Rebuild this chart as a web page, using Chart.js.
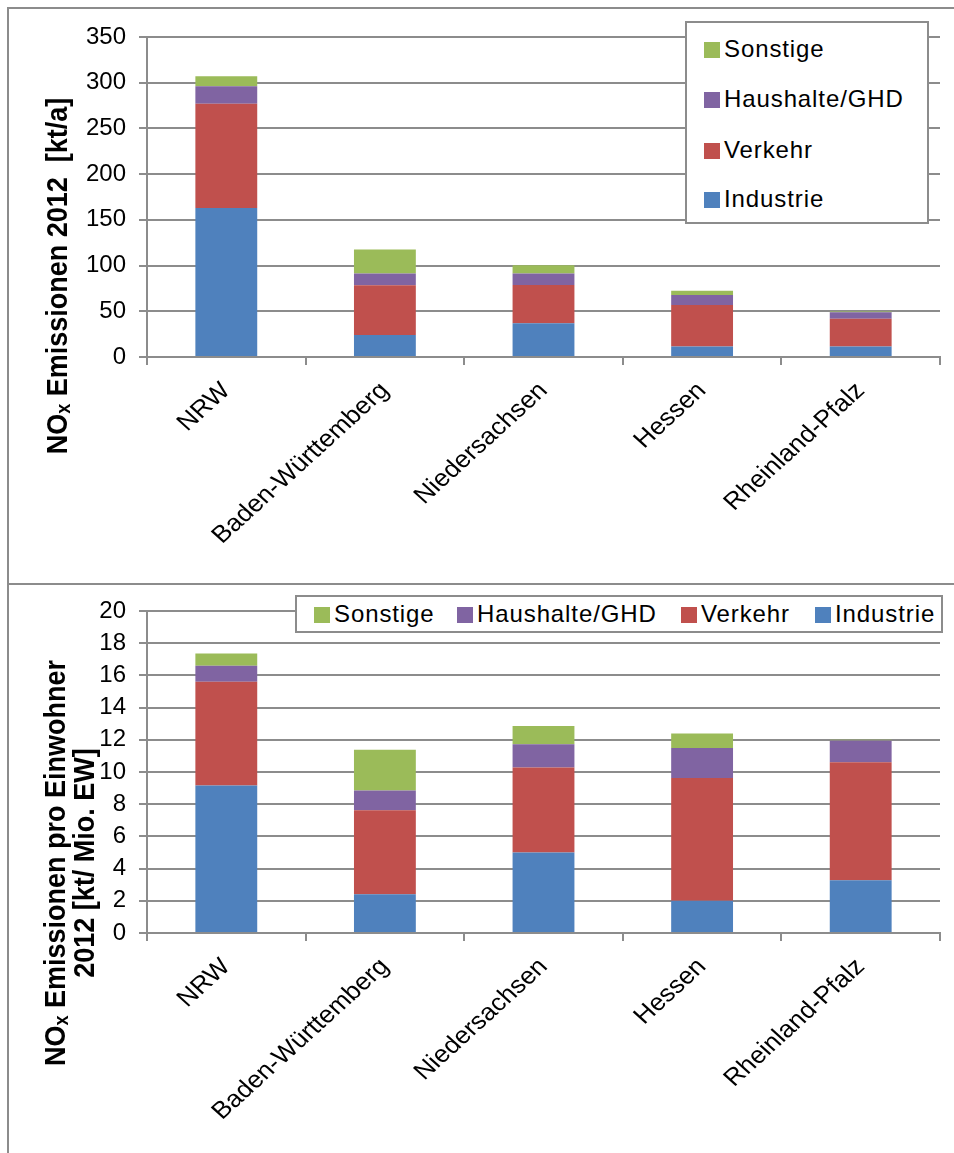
<!DOCTYPE html>
<html>
<head>
<meta charset="utf-8">
<script src="https://cdn.jsdelivr.net/npm/chart.js@4.4.1/dist/chart.umd.min.js"></script>
<style>
  html, body { margin: 0; padding: 0; background: #fff; }
  body { width: 954px; height: 1153px; overflow: hidden; position: relative;
         font-family: "Liberation Sans", Arial, sans-serif; }
  .frame { position: absolute; border: 2px solid #8c8c8c; border-right: none; }
  #f1 { left: 7px; top: 7px; width: 960px; height: 574px; }
  #f2 { left: 7px; top: 581px; width: 960px; height: 600px; border-top: none; border-bottom: none; }
  canvas { position: absolute; left: 0; }
  #c1 { top: 0; }
  #c2 { top: 583px; }
  .legend { position: absolute; background: #fff; border: 2px solid #8c8c8c; box-sizing: border-box; }
  .legend .item { position: absolute; white-space: nowrap; font-size: 24px; color: #000; line-height: 30px; height: 30px; letter-spacing: 0.9px; }
  .legend .sw { display: inline-block; width: 16px; height: 16px; vertical-align: -1px; margin-right: 4px; }
  #lg1 { left: 685px; top: 21px; width: 244px; height: 203px; }
  #lg2 { left: 295px; top: 595px; width: 648px; height: 38px; }
</style>
</head>
<body>
<div class="frame" id="f1"></div>
<div class="frame" id="f2"></div>
<canvas id="c1" width="954" height="583"></canvas>
<canvas id="c2" width="954" height="570"></canvas>
<div class="legend" id="lg1"></div>
<div class="legend" id="lg2"></div>
<script>
// ---------------- data ----------------
const categories = ['NRW', 'Baden-Württemberg', 'Niedersachsen', 'Hessen', 'Rheinland-Pfalz'];
const seriesNames = ['Industrie', 'Verkehr', 'Haushalte/GHD', 'Sonstige'];
const seriesColors = ['#4F81BD', '#C0504D', '#8064A2', '#9BBB59'];

// NOx emissions 2012 [kt/a]
const industrieAbs = [163, 24, 37, 11.6, 11.6];
const verkehrAbs   = [114, 54.5, 41.7, 45.3, 30.1];
const haushalteAbs = [19, 12.7, 12.7, 10.9, 7.3];
const sonstigeAbs  = [11, 26.5, 9, 4.7, 0.7];

// NOx emissions per inhabitant 2012 [kt / Mio. EW]
const industriePc = [9.16, 2.41, 5.0, 2.0, 3.28];
const verkehrPc   = [6.44, 5.21, 5.28, 7.63, 7.33];
const haushaltePc = [1.0, 1.23, 1.45, 1.86, 1.35];
const sonstigePc  = [0.76, 2.53, 1.13, 0.9, 0.05];

const yTicksTop = { min: 0, max: 350, step: 50 };
const yTicksBottom = { min: 0, max: 20, step: 2 };

const titleTop = [['NO', 'x', ' Emissionen 2012  [kt/a]']];
const titleBottom = [['NO', 'x', ' Emissionen pro Einwohner'], ['', '', '2012 [kt/ Mio. EW]']];

// ---------------- helpers ----------------
const FONT = '"Liberation Sans", Arial, sans-serif';
const GRID = '#8c8c8c';
const STRETCH = 1.1;

function datasets(arrs) {
  return arrs.map((d, i) => ({
    label: seriesNames[i],
    data: d,
    backgroundColor: seriesColors[i],
    borderWidth: 0,
    categoryPercentage: 1.0,
    barPercentage: 0.39
  }));
}

// axis title with subscript, rotated
const yTitlePlugin = {
  id: 'yTitle',
  afterDraw(chart, args, opts) {
    const ctx = chart.ctx;
    const big = 'bold 27px ' + FONT;
    const small = 'bold 18px ' + FONT;
    opts.lines.forEach((parts, k) => {
      const pos = opts.pos[k];
      ctx.save();
      ctx.translate(pos.x, pos.y);
      ctx.scale(STRETCH, 1);
      ctx.rotate(-Math.PI / 2);
      ctx.fillStyle = '#000';
      ctx.textBaseline = 'middle';
      ctx.textAlign = 'left';
      ctx.font = big; const w0 = ctx.measureText(parts[0]).width;
      ctx.font = small; const w1 = ctx.measureText(parts[1]).width;
      ctx.font = big; const w2 = ctx.measureText(parts[2]).width;
      let x = -(w0 + w1 + w2) / 2;
      ctx.font = big; ctx.fillText(parts[0], x, 0); x += w0;
      ctx.font = small; ctx.fillText(parts[1], x, 5); x += w1;
      ctx.font = big; ctx.fillText(parts[2], x, 0);
      ctx.restore();
    });
  }
};

// rotated category labels (drawn at the library's tick positions)
const xLabelPlugin = {
  id: 'xLabels',
  afterDraw(chart) {
    const xs = chart.scales.x;
    const ctx = chart.ctx;
    ctx.save();
    ctx.fillStyle = '#000';
    ctx.font = '24px ' + FONT;
    ctx.textAlign = 'right';
    ctx.textBaseline = 'middle';
    chart.data.labels.forEach((lab, i) => {
      const x = xs.getPixelForTick(i);
      const y = xs.top + 30;
      ctx.save();
      ctx.translate(x, y);
      ctx.scale(STRETCH, 1);
      ctx.rotate(-Math.PI / 4);
      ctx.fillText(lab, 0, 0);
      ctx.restore();
    });
    ctx.restore();
  }
};

function makeChart(id, arrs, yt, padTop, plotBottom, canvasH, titleLines, titlePos) {
  return new Chart(document.getElementById(id), {
    type: 'bar',
    data: { labels: categories, datasets: datasets(arrs) },
    plugins: [yTitlePlugin, xLabelPlugin],
    options: {
      responsive: false,
      animation: false,
      devicePixelRatio: 1,
      layout: { padding: { top: padTop, right: 14, bottom: 0, left: 0 } },
      plugins: {
        legend: { display: false },
        tooltip: { enabled: false },
        yTitle: { lines: titleLines, pos: titlePos }
      },
      scales: {
        x: {
          stacked: true,
          offset: true,
          grid: { display: true, drawOnChartArea: false, drawTicks: true, tickLength: 8, color: GRID, lineWidth: 2, offset: true },
          border: { display: true, color: GRID, width: 2 },
          ticks: { display: false, autoSkip: false },
          afterFit(scale) { scale.height = canvasH - plotBottom; }
        },
        y: {
          stacked: true,
          min: yt.min, max: yt.max,
          grid: { color: GRID, lineWidth: 2, tickLength: 8, drawTicks: true },
          border: { display: true, color: GRID, width: 2 },
          ticks: { stepSize: yt.step, color: '#000', font: { family: FONT, size: 24 }, padding: 13 },
          afterFit(scale) { scale.width = 147; }
        }
      }
    }
  });
}

makeChart('c1', [industrieAbs, verkehrAbs, haushalteAbs, sonstigeAbs], yTicksTop,
          37, 357, 583, titleTop, [{ x: 59, y: 276 }]);
makeChart('c2', [industriePc, verkehrPc, haushaltePc, sonstigePc], yTicksBottom,
          28, 350, 570, titleBottom, [{ x: 57, y: 280 }, { x: 86, y: 280 }]);

// ---------------- legends ----------------
function buildLegend(elId, positions) {
  const el = document.getElementById(elId);
  const order = [3, 2, 1, 0];
  order.forEach((si, k) => {
    const it = document.createElement('div');
    it.className = 'item';
    it.style.left = positions[k].x + 'px';
    it.style.top = positions[k].y + 'px';
    const sw = document.createElement('span');
    sw.className = 'sw';
    sw.style.background = seriesColors[si];
    it.appendChild(sw);
    it.appendChild(document.createTextNode(seriesNames[si]));
    el.appendChild(it);
  });
}
buildLegend('lg1', [{ x: 17, y: 11 }, { x: 17, y: 61 }, { x: 17, y: 112 }, { x: 17, y: 161 }]);
buildLegend('lg2', [{ x: 17, y: 2 }, { x: 160, y: 2 }, { x: 384, y: 2 }, { x: 518, y: 2 }]);
</script>
</body>
</html>
